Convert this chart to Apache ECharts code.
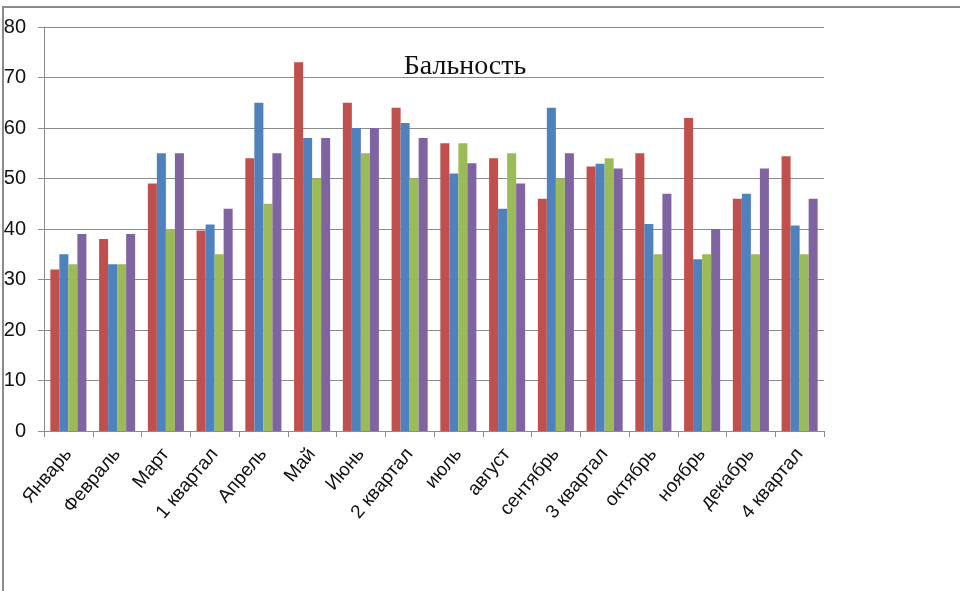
<!DOCTYPE html>
<html>
<head>
<meta charset="utf-8">
<script src="https://cdn.jsdelivr.net/npm/echarts@6/dist/echarts.min.js"></script>
<style>
  html, body { margin: 0; padding: 0; background: #fff; }
  #chart { width: 960px; height: 591px; }
  .frame {
    position: absolute; left: 2px; top: 6px; right: 0; bottom: 0;
    border-top: 2px solid #8a8a8a; border-left: 2px solid #8a8a8a;
    pointer-events: none;
  }
</style>
</head>
<body>
<div id="chart"></div>
<div class="frame"></div>
<script>
// категории (месяцы и кварталы)
var categories = ['Январь', 'Февраль', 'Март', '1 квартал', 'Апрель', 'Май', 'Июнь', '2 квартал',
  'июль', 'август', 'сентябрь', '3 квартал', 'октябрь', 'ноябрь', 'декабрь', '4 квартал']
// четыре ряда
var seriesRed = [32, 38, 49, 39.7, 54, 73, 65, 64, 57, 54, 46, 52.4, 55, 62, 46, 54.4]
var seriesBlue = [35, 33, 55, 40.9, 65, 58, 60, 61, 51, 44, 64, 52.9, 41, 34, 47, 40.7]
var seriesGreen = [33, 33, 40, 35, 45, 50, 55, 50, 57, 55, 50, 54, 35, 35, 35, 35]
var seriesPurple = [39, 39, 55, 44, 55, 58, 60, 58, 53, 49, 55, 52, 47, 40, 52, 46]
var yTicks = [0, 80, 10] // min, max, interval

var colors = ['#C0504D', '#4F81BD', '#9BBB59', '#8064A2']
var gray = '#8c8c8c'

function bar (data) {
  return {
    type: 'bar',
    data: data,
    barGap: '0%',
    barCategoryGap: '26%',
    animation: false
  }
}

var option = {
  color: colors,
  title: {
    text: 'Бальность',
    left: 460,
    top: 48,
    textAlign: 'center',
    textStyle: {
      fontFamily: 'Liberation Serif',
      fontWeight: 'normal',
      fontSize: 28,
      color: '#111'
    }
  },
  grid: {
    left: 44,
    right: 136,
    top: 27,
    bottom: 160,
    containLabel: false
  },
  xAxis: {
    type: 'category',
    data: categories,
    boundaryGap: true,
    axisLine: { lineStyle: { color: gray, width: 1 } },
    axisTick: { show: true, alignWithLabel: false, length: 6, lineStyle: { color: gray } },
    axisLabel: {
      rotate: 50,
      margin: 20,
      interval: 0,
      fontFamily: 'Liberation Sans',
      fontSize: 19,
      color: '#111'
    }
  },
  yAxis: {
    type: 'value',
    min: yTicks[0],
    max: yTicks[1],
    interval: yTicks[2],
    axisLine: { show: true, lineStyle: { color: gray, width: 1 } },
    axisTick: { show: true, length: 6, lineStyle: { color: gray } },
    splitLine: { show: true, lineStyle: { color: gray, width: 1 } },
    axisLabel: {
      margin: 18,
      fontFamily: 'Liberation Sans',
      fontSize: 20,
      color: '#111'
    }
  },
  series: [bar(seriesRed), bar(seriesBlue), bar(seriesGreen), bar(seriesPurple)]
}

var chart = echarts.init(document.getElementById('chart'), null, { renderer: 'canvas' })
chart.setOption(option, true)
</script>
</body>
</html>
